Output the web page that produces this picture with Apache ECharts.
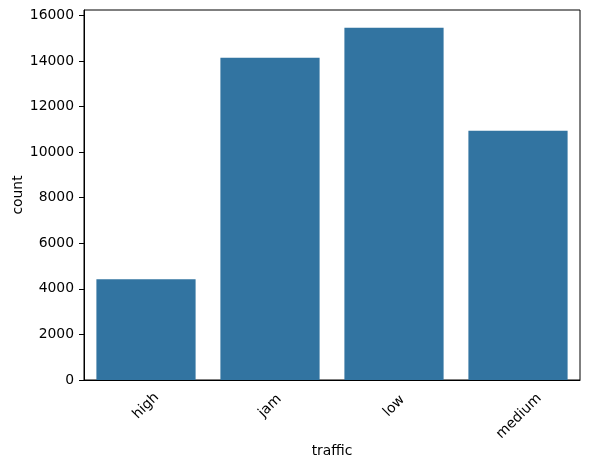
<!DOCTYPE html>
<html><head><meta charset="utf-8">
<script src="https://cdn.jsdelivr.net/npm/echarts@6/dist/echarts.min.js"></script>
<style>html,body{margin:0;padding:0;background:#fff}#c{width:589px;height:469px}</style>
</head><body><div id="c"></div>
<script>
const categories = ['high', 'jam', 'low', 'medium'];
const counts = [4420, 14140, 15460, 10935];
const yTicks = [0, 2000, 4000, 6000, 8000, 10000, 12000, 14000, 16000];

const font = 'DejaVu Sans';
const chart = echarts.init(document.getElementById('c'), null, {renderer: 'canvas'});
chart.setOption({
  animation: false,
  grid: {left: 84, right: 9, top: 10, bottom: 89, containLabel: false, outerBoundsMode: 'none', show: true, borderColor: '#000', borderWidth: 1, backgroundColor: 'transparent'},
  xAxis: {
    type: 'category', data: categories,
    name: 'traffic', nameLocation: 'middle', nameGap: 64, nameMoveOverlap: false,
    nameTextStyle: {fontFamily: font, fontSize: 13.9, color: '#000'},
    axisLine: {lineStyle: {color: '#000', width: 1}},
    axisTick: {alignWithLabel: true, inside: false, length: 5, lineStyle: {color: '#000'}},
    axisLabel: {rotate: 45, align: 'center', verticalAlign: 'middle', margin: 26, lineHeight: 16,
      fontFamily: font, fontSize: 13.9, color: '#000',
      formatter: v => v === 'medium' ? '\n' + v + '   ' : v}
  },
  yAxis: {
    type: 'value', min: 0, max: 16237, interval: 2000,
    name: 'count', nameLocation: 'middle', nameGap: 59, nameRotate: 90, nameMoveOverlap: false,
    nameTextStyle: {fontFamily: font, fontSize: 13.9, color: '#000'},
    splitLine: {show: false},
    axisLine: {show: true, lineStyle: {color: '#000', width: 1}},
    axisTick: {show: true, inside: false, length: 5, lineStyle: {color: '#000'}, customValues: yTicks},
    axisLabel: {inside: false, margin: 10, fontFamily: font, fontSize: 13.9, color: '#000', customValues: yTicks, formatter: v => String(v)}
  },
  series: [{
    type: 'bar', data: counts, barWidth: '80%',
    itemStyle: {color: '#3274a1', borderWidth: 0}
  }]
});
</script></body></html>
